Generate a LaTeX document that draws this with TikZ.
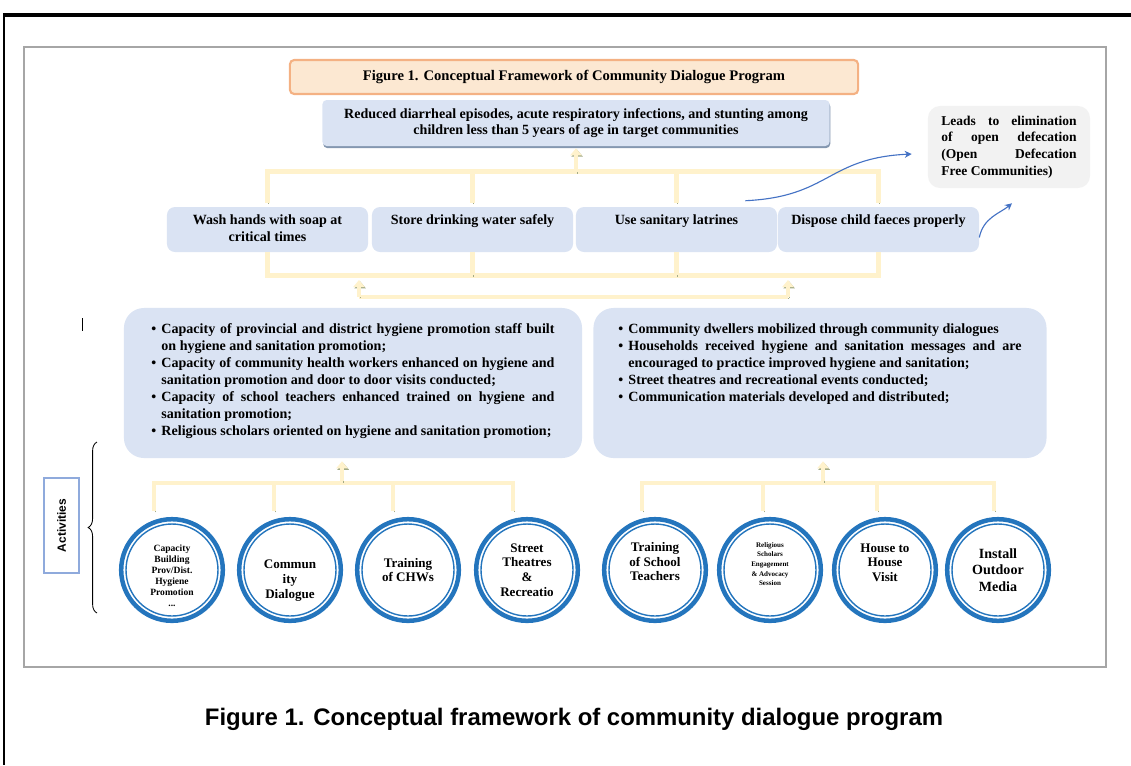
\documentclass[tikz,border=0pt]{standalone}
\usepackage{fontspec}
\setmainfont{Liberation Serif}
\newfontfamily\capfont{Liberation Sans}
\usepackage{tikz}
\usetikzlibrary{arrows.meta,shadows,decorations.pathreplacing}

\definecolor{boxblue}{HTML}{DAE3F3}
\definecolor{boxgrey}{HTML}{F2F2F2}
\definecolor{cream}{HTML}{FFF2CC}
\definecolor{barshade}{HTML}{A3AB86}
\definecolor{ringblue}{HTML}{2475BD}
\definecolor{curveblue}{HTML}{4472C4}
\definecolor{titleline}{HTML}{F4B183}
\definecolor{titlefill}{HTML}{FCE8D2}
\definecolor{framegrey}{HTML}{A6A6A6}
\definecolor{labelline}{HTML}{8FAADC}
\definecolor{shadeblue}{HTML}{8497B0}

\newcommand{\topbox}[3]{\parbox[t][#2][t]{#1}{\centering #3}}
\newcommand{\bpoint}[1]{\par\noindent\hangindent=0.25cm\hangafter=1\makebox[0.25cm][l]{\textbullet}#1}

\begin{document}
\begin{tikzpicture}[x=0.025cm,y=-0.025cm,
  txt/.style={font=\bfseries\fontsize{10}{12}\selectfont},
  titlebox/.style={font=\bfseries\fontsize{10.4}{12}\selectfont, draw=titleline, line width=1.5pt, fill=titlefill, rounded corners=3pt, minimum width=14.2cm, minimum height=0.85cm},
  outbox/.style={font=\bfseries\fontsize{10}{11.6}\selectfont, fill=boxblue, rounded corners=3pt, minimum width=12.675cm, minimum height=1.15cm, align=center,
    drop shadow={shadow xshift=0.5pt, shadow yshift=-1.5pt, fill=shadeblue, opacity=1}},
  behav/.style={txt, fill=boxblue, rounded corners=0.2cm, inner xsep=0.1cm, inner ysep=0.2cm},
  odfbox/.style={font=\bfseries\fontsize{9.6}{11.9}\selectfont, fill=boxgrey, rounded corners=0.3cm, minimum width=4.05cm, minimum height=2.05cm, text width=3.375cm, align=justify},
  resbox/.style={txt, fill=boxblue, rounded corners=0.5cm, inner ysep=0.3cm},
  act/.style={circle, draw=ringblue, line width=3.2pt, minimum size=2.54cm, inner sep=0pt, align=center,
    font=\bfseries\fontsize{9.3}{10.4}\selectfont},
  actlabel/.style={draw=labelline, line width=1.2pt, rotate=90, minimum width=2.375cm, minimum height=0.875cm,
    font=\capfont\bfseries\fontsize{8.5}{10}\selectfont},
  bar/.style={draw=cream, line width=3.2pt, preaction={draw=barshade, transform canvas={shift={(0.8pt,-1pt)}}}},
  barrow/.style={bar, -{Triangle[width=8pt,length=5pt]}},
  curvearrow/.style={draw=curveblue, line width=0.8pt, -{Stealth[length=5pt,width=5pt]}}
]
\useasboundingbox (0,0) rectangle (1131,765);

% frames
\draw[line width=2.2pt] (3,15) -- (1131,15);
\draw[line width=1.1pt] (4,15) -- (4,765);
\draw[framegrey, line width=1.6pt] (24,47) rectangle (1106,667);
\draw[line width=0.6pt] (82,318) -- (82,331);

\node[titlebox] (title) at (574,77) {Figure 1. Conceptual Framework of Community Dialogue Program};
\node[outbox] (outcome) at (576,123) {Reduced diarrheal episodes, acute respiratory infections, and stunting among\\
  children less than 5 years of age in target communities};
\node[odfbox] (odf) at (1009,147) {Leads to elimination\linebreak of open defecation\linebreak (Open Defecation\linebreak Free Communities)};

% behaviours
\node[behav] (w1) at (267.5,229.5) {\topbox{4.825cm}{0.725cm}{Wash hands with soap at\\critical times}};
\node[behav] (w2) at (472.5,229.5) {\topbox{4.825cm}{0.725cm}{Store drinking water safely}};
\node[behav] (w3) at (676.5,229.5) {\topbox{4.825cm}{0.725cm}{Use sanitary latrines}};
\node[behav] (w4) at (878.5,229.5) {\topbox{4.825cm}{0.725cm}{Dispose child faeces properly}};

% results
\node[resbox, inner xsep=0.6875cm] (left) at (353,383) {\parbox[t][3.15cm][t]{10.075cm}{\vspace{0.1cm}%
  \bpoint{Capacity of provincial and district hygiene promotion staff built\linebreak on hygiene and sanitation promotion;}
  \bpoint{Capacity of community health workers enhanced on hygiene and\linebreak sanitation promotion and door to door visits conducted;}
  \bpoint{Capacity of school teachers enhanced trained on hygiene and\linebreak sanitation promotion;}
  \bpoint{Religious scholars oriented on hygiene and sanitation promotion;}}};
\node[resbox, inner xsep=0.625cm] (right) at (820,383) {\parbox[t][3.15cm][t]{10.075cm}{\vspace{0.1cm}%
  \bpoint{Community dwellers mobilized through community dialogues}
  \bpoint{Households received hygiene and sanitation messages and are\linebreak encouraged to practice improved hygiene and sanitation;}
  \bpoint{Street theatres and recreational events conducted;}
  \bpoint{Communication materials developed and distributed;}}};

% activities
\node[act, font=\bfseries\fontsize{6.8}{7.8}\selectfont] (a1) at (172,570) {\rule{0pt}{0.45cm}Capacity\\Building\\Prov/Dist.\\Hygiene\\Promotion\\...};
\node[act] (a2) at (290,570) {\rule{0pt}{0.75cm}Commun\\ity\\Dialogue};
\node[act] (a3) at (408,570) {Training\\of CHWs};
\node[act] (a4) at (527,570) {Street\\Theatres\\\&\\Recreatio};
\node[act] (a5) at (655,570) {Training\\of School\\Teachers\rule[-0.42cm]{0pt}{0pt}};
\node[act, font=\bfseries\fontsize{5}{6.9}\selectfont] (a6) at (770,570) {Religious\\Scholars\\Engagement\\\& Advocacy\\Session\rule[-0.3cm]{0pt}{0pt}};
\node[act] (a7) at (885,570) {House to\\House\\Visit\rule[-0.37cm]{0pt}{0pt}};
\node[act, font=\bfseries\fontsize{10}{11.7}\selectfont] (a8) at (998,570) {Install\\Outdoor\\Media};
\foreach \i in {1,...,8}
  \draw[ringblue, line width=1pt] (a\i.center) circle[radius=46];

\node[actlabel] (actv) at (61.5,525.5) {Activities};
\draw[decorate, decoration={brace, amplitude=0.22cm}, line width=0.6pt] (97,613) -- (97,442);

% connectors
\draw[bar] ([yshift=0.1cm]w1.north) -- ++(0,-31) -| ([yshift=0.1cm]w4.north);
\draw[bar] ([yshift=0.1cm]w2.north) -- ++(0,-31);
\draw[bar] ([yshift=0.1cm]w3.north) -- ++(0,-31);
\draw[barrow] ([yshift=-0.65cm]outcome.south) -- ([yshift=-0.05cm]outcome.south);

\draw[bar] (w1.south) -- ++(0,23) -| (w4.south);
\draw[bar] (w2.south) -- ++(0,23);
\draw[bar] (w3.south) -- ++(0,23);
\coordinate (lb1) at (359,297);
\coordinate (lb2) at (788,297);
\draw[bar] (lb1) -- (lb2);
\draw[barrow] (lb1) -- ++(0,-17);
\draw[barrow] (lb2) -- ++(0,-17);

\draw[bar] ([xshift=-0.45cm,yshift=0.15cm]a1.north) -- ++(0,-28) -| ([xshift=-0.35cm,yshift=0.15cm]a4.north);
\draw[bar] ([xshift=-0.4cm,yshift=0.15cm]a2.north) -- ++(0,-28);
\draw[bar] ([xshift=-0.375cm,yshift=0.15cm]a3.north) -- ++(0,-28);
\draw[barrow] ([xshift=-0.275cm,yshift=-0.575cm]left.south) -- ++(0,-20);

\draw[bar] ([xshift=-0.325cm,yshift=0.15cm]a5.north) -- ++(0,-28) -| ([xshift=-0.1cm,yshift=0.15cm]a8.north);
\draw[bar] ([xshift=-0.175cm,yshift=0.15cm]a6.north) -- ++(0,-28);
\draw[bar] ([xshift=-0.2cm,yshift=0.15cm]a7.north) -- ++(0,-28);
\draw[barrow] ([xshift=0.075cm,yshift=-0.575cm]right.south) -- ++(0,-20);

\draw[curvearrow] ([xshift=-0.8cm,yshift=0.15cm]w3.north east) .. controls +(85,-4) and +(-85,4) .. ([xshift=-0.4cm,yshift=-0.175cm]odf.west);
\draw[curvearrow] ([yshift=-0.2cm]w4.east) .. controls +(4,-20) and +(-12,10) .. ([xshift=0.075cm,yshift=-0.375cm]odf.south);

\node[font=\capfont\bfseries\fontsize{17}{20}\selectfont] (caption) at (574,719) {Figure 1. Conceptual framework of community dialogue program};
\end{tikzpicture}
\end{document}
